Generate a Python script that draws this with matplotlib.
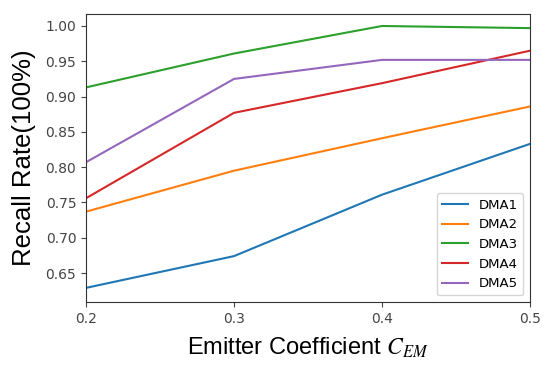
import matplotlib
matplotlib.use("Agg")
import matplotlib.pyplot as plt

# data
coef = [0.2, 0.3, 0.4, 0.5]
dma1 = [0.629, 0.674, 0.761, 0.833]
dma2 = [0.737, 0.795, 0.841, 0.886]
dma3 = [0.913, 0.961, 1.000, 0.997]
dma4 = [0.756, 0.877, 0.919, 0.965]
dma5 = [0.807, 0.925, 0.952, 0.952]
names = ["DMA1", "DMA2", "DMA3", "DMA4", "DMA5"]

plt.rcParams["mathtext.fontset"] = "stix"

fig = plt.figure(figsize=(5.5, 3.73), dpi=100)
ax = fig.add_axes([86 / 550, 1 - 302 / 373, (530 - 86) / 550, (302 - 14) / 373])

for series, name in zip([dma1, dma2, dma3, dma4, dma5], names):
    ax.plot(coef, series, label=name, linewidth=1.5)

ax.set_xlim(0.2, 0.5)
ax.set_ylim(0.609, 1.017)
ax.set_xticks([0.2, 0.3, 0.4, 0.5])
ax.set_yticks([0.65, 0.70, 0.75, 0.80, 0.85, 0.90, 0.95, 1.00])
ax.tick_params(labelsize=10, colors="#444444")
for sp in ax.spines.values():
    sp.set_color("#333333")

ax.set_ylabel("Recall Rate(100%)", fontsize=18.5, family="Liberation Sans", labelpad=7)
ax.set_xlabel("Emitter Coefficient $C_{EM}$", fontsize=17, family="Liberation Sans", labelpad=7)

ax.legend(loc="lower right", fontsize=9.5)

plt.savefig("out.png", dpi=100)
